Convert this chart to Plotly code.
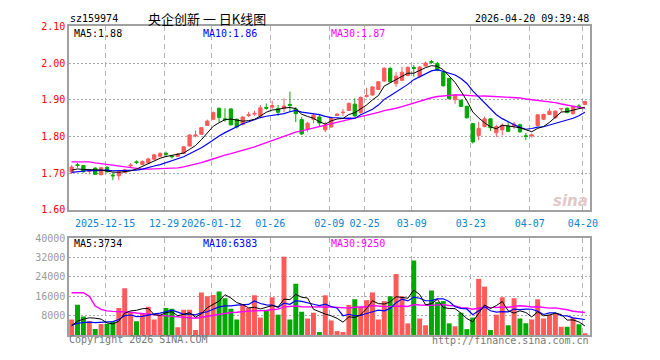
import plotly.graph_objects as go
import pandas as pd

W, H = 660, 360

# ---------------- data ----------------
tick_labels = ["2025-12-15", "12-29", "2026-01-12", "01-26", "02-09",
               "02-25", "03-09", "03-23", "04-07", "04-20"]
tick_index = [6, 16, 24, 34, 44, 50, 58, 68, 78, 87]

open_ = [1.703, 1.723, 1.721, 1.705, 1.714, 1.696, 1.716, 1.695, 1.693, 1.702,
         1.720, 1.731, 1.724, 1.728, 1.738, 1.746, 1.754, 1.747, 1.746, 1.754,
         1.774, 1.802, 1.806, 1.830, 1.847, 1.877, 1.848, 1.875, 1.847, 1.833,
         1.857, 1.861, 1.856, 1.879, 1.880, 1.876, 1.876, 1.887, 1.875, 1.846,
         1.821, 1.847, 1.853, 1.818, 1.826, 1.857, 1.865, 1.871, 1.888, 1.865,
         1.909, 1.913, 1.928, 1.951, 1.985, 1.944, 1.953, 1.966, 1.988, 1.963,
         1.992, 2.004, 1.999, 1.975, 1.958, 1.900, 1.899, 1.882, 1.835, 1.803,
         1.827, 1.848, 1.810, 1.818, 1.828, 1.829, 1.832, 1.802, 1.802, 1.830,
         1.847, 1.860, 1.851, 1.875, 1.877, 1.862, 1.883, 1.887]
high = [1.722, 1.728, 1.722, 1.710, 1.716, 1.717, 1.720, 1.702, 1.709, 1.712,
        1.728, 1.735, 1.735, 1.742, 1.752, 1.757, 1.759, 1.750, 1.755, 1.774,
        1.806, 1.816, 1.826, 1.846, 1.868, 1.878, 1.877, 1.877, 1.849, 1.855,
        1.867, 1.870, 1.886, 1.890, 1.897, 1.886, 1.904, 1.922, 1.880, 1.853,
        1.840, 1.863, 1.858, 1.840, 1.854, 1.863, 1.875, 1.893, 1.904, 1.909,
        1.933, 1.937, 1.951, 1.988, 1.990, 1.975, 1.990, 1.991, 1.995, 1.992,
        2.004, 2.008, 2.003, 1.978, 1.960, 1.915, 1.900, 1.884, 1.837, 1.840,
        1.854, 1.850, 1.832, 1.836, 1.840, 1.840, 1.835, 1.810, 1.808, 1.861,
        1.862, 1.877, 1.871, 1.877, 1.879, 1.883, 1.888, 1.898]
low = [1.698, 1.715, 1.702, 1.697, 1.696, 1.694, 1.702, 1.681, 1.681, 1.700,
       1.715, 1.725, 1.722, 1.727, 1.737, 1.745, 1.744, 1.740, 1.745, 1.753,
       1.773, 1.798, 1.805, 1.829, 1.845, 1.839, 1.840, 1.830, 1.822, 1.830,
       1.853, 1.856, 1.851, 1.873, 1.875, 1.856, 1.866, 1.866, 1.839, 1.804,
       1.812, 1.836, 1.827, 1.812, 1.823, 1.856, 1.856, 1.869, 1.854, 1.862,
       1.906, 1.911, 1.926, 1.948, 1.947, 1.935, 1.951, 1.964, 1.963, 1.960,
       1.990, 1.998, 1.978, 1.936, 1.901, 1.889, 1.880, 1.849, 1.781, 1.790,
       1.825, 1.815, 1.799, 1.803, 1.812, 1.821, 1.810, 1.790, 1.797, 1.828,
       1.845, 1.858, 1.849, 1.866, 1.863, 1.860, 1.879, 1.885]
close = [1.717, 1.721, 1.704, 1.707, 1.697, 1.715, 1.704, 1.693, 1.704, 1.709,
         1.722, 1.729, 1.732, 1.739, 1.750, 1.754, 1.752, 1.745, 1.752, 1.772,
         1.804, 1.804, 1.824, 1.842, 1.865, 1.852, 1.846, 1.832, 1.826, 1.853,
         1.859, 1.863, 1.878, 1.877, 1.884, 1.866, 1.883, 1.885, 1.862, 1.807,
         1.836, 1.858, 1.837, 1.831, 1.851, 1.861, 1.866, 1.890, 1.856, 1.906,
         1.911, 1.935, 1.949, 1.986, 1.949, 1.964, 1.975, 1.988, 1.985, 1.989,
         2.000, 2.002, 1.980, 1.938, 1.903, 1.913, 1.882, 1.851, 1.785, 1.822,
         1.848, 1.824, 1.827, 1.831, 1.814, 1.834, 1.813, 1.800, 1.804, 1.859,
         1.860, 1.869, 1.869, 1.876, 1.865, 1.881, 1.881, 1.895]
volume = [6400, 12500, 7600, 5700, 2500, 4500, 4500, 5600, 11200, 19300,
          9200, 5700, 8900, 11700, 6400, 8000, 11200, 10800, 3200, 10400,
          10400, 2000, 17600, 16000, 16500, 18000, 15200, 10800, 6400, 12500,
          11200, 16400, 7200, 10400, 15600, 8400, 32400, 6400, 21200, 9600,
          6800, 9200, 1200, 16400, 6000, 1600, 1200, 12400, 14800, 11600,
          14400, 17600, 6400, 14000, 16000, 25200, 16000, 4800, 30800, 6800,
          4000, 18400, 13600, 14000, 4800, 3600, 9200, 2400, 7200, 23200,
          20000, 2000, 8400, 15600, 4000, 15200, 6800, 4800, 6400, 14800,
          6800, 8400, 8800, 3400, 3400, 7100, 4400, 400]

# sessions before the first visible candle (estimated so that the moving averages start where they do)
pre_close = [1.71, 1.71, 1.71, 1.78, 1.78, 1.765, 1.765, 1.765, 1.80, 1.80,
             1.80, 1.74, 1.74, 1.74, 1.74, 1.74, 1.74, 1.69, 1.69, 1.70,
             1.70, 1.69, 1.69, 1.70, 1.70, 1.705, 1.71, 1.705, 1.705]
pre_volume = [12500, 7600, 50700, 122500, 46500, 22500, 11600,
              15000, 18000, 17000, 16000, 14000, 19000, 16500, 15000, 17000,
              16000, 15500, 17000, 14000,
              4500, 4000, 4200, 4300, 4000, 3000, 3500, 2800, 3300]

price_ticks = [1.60, 1.70, 1.80, 1.90, 2.00, 2.10]
vol_ticks = [8000, 16000, 24000, 32000, 40000]

title_code = "sz159974"
title_name = "央企创新\u00a0一\u00a0日K线图"
stamp = "2026-04-20 09:39:48"
price_ma_labels = ["MA5:1.88", "MA10:1.86", "MA30:1.87"]
vol_ma_labels = ["MA5:3734", "MA10:6383", "MA30:9250"]

# ---------------- derived ----------------
n = len(close)
idx = list(range(n))
cs = pd.Series(pre_close + close)
vs = pd.Series(pre_volume + volume)
k = len(pre_close)
ma5 = cs.rolling(5).mean().iloc[k:].tolist()
ma10 = cs.rolling(10).mean().iloc[k:].tolist()
ma30 = cs.rolling(30).mean().iloc[k:].tolist()
vma5 = vs.rolling(5).mean().iloc[k:].tolist()
vma10 = vs.rolling(10).mean().iloc[k:].tolist()
vma30 = vs.rolling(30).mean().iloc[k:].tolist()

RED = "#ff5a5a"
GREEN = "#00a800"
MONO = "DejaVu Sans Mono"
vcolors = [RED if c >= o else GREEN for o, c in zip(open_, close)]


def px(x):
    return x / W


def py(y):
    return 1 - y / H


XR = [-0.4167, 87.833]
XDOM = [px(70), px(597)]

fig = go.Figure()
fig.add_trace(go.Candlestick(
    x=idx, open=open_, high=high, low=low, close=close,
    increasing=dict(line=dict(color=RED, width=1), fillcolor=RED),
    decreasing=dict(line=dict(color=GREEN, width=1), fillcolor=GREEN),
    whiskerwidth=0, xaxis="x", yaxis="y", hoverinfo="skip"))
fig.add_trace(go.Scatter(x=idx, y=ma30, mode="lines", line=dict(color="#ff00ff", width=1.4),
                         xaxis="x", yaxis="y", hoverinfo="skip"))
fig.add_trace(go.Scatter(x=idx, y=ma10, mode="lines", line=dict(color="#0000ff", width=1.2),
                         xaxis="x", yaxis="y", hoverinfo="skip"))
fig.add_trace(go.Scatter(x=idx, y=ma5, mode="lines", line=dict(color="#000000", width=1),
                         xaxis="x", yaxis="y", hoverinfo="skip"))

fig.add_trace(go.Bar(x=idx, y=volume, marker=dict(color=vcolors, line=dict(width=0)),
                     width=0.84, xaxis="x2", yaxis="y2", hoverinfo="skip"))
fig.add_trace(go.Scatter(x=idx, y=vma30, mode="lines", line=dict(color="#ff00ff", width=1.4),
                         xaxis="x2", yaxis="y2", hoverinfo="skip"))
fig.add_trace(go.Scatter(x=idx, y=vma10, mode="lines", line=dict(color="#0000ff", width=1.2),
                         xaxis="x2", yaxis="y2", hoverinfo="skip"))
fig.add_trace(go.Scatter(x=idx, y=vma5, mode="lines", line=dict(color="#000000", width=1),
                         xaxis="x2", yaxis="y2", hoverinfo="skip"))

grid_x = dict(showgrid=True, gridcolor="#b4b4b4", gridwidth=1, griddash="5px,4px",
              showline=True, mirror=True, linecolor="#a0a0a0", linewidth=1.5,
              ticks="", zeroline=False, range=XR, domain=XDOM,
              tickvals=[t - 0.33 for t in tick_index], ticktext=tick_labels)

fig.update_layout(
    width=W, height=H, autosize=False,
    margin=dict(l=0, r=0, t=0, b=0),
    paper_bgcolor="white", plot_bgcolor="white",
    showlegend=False, boxgap=0.2,
    xaxis=dict(**grid_x, anchor="y", rangeslider=dict(visible=False),
               ticklabelstandoff=3,
               tickfont=dict(family=MONO, size=10, color="#0b84cf")),
    yaxis=dict(domain=[py(211), py(21)], range=[1.60, 2.10], anchor="x",
               tickvals=price_ticks, ticktext=["%.2f" % v for v in price_ticks],
               tickfont=dict(family=MONO, size=10, color="#ff0000"),
               showgrid=True, gridcolor="#aaaaaa", gridwidth=1, griddash="2px,2px",
               showline=True, mirror=True, linecolor="#a0a0a0", linewidth=1.5,
               ticks="", zeroline=False),
    xaxis2=dict(**grid_x, anchor="y2", showticklabels=False),
    yaxis2=dict(domain=[py(340.3), py(240.3)], range=[0, 40000], anchor="x2",
                tickvals=vol_ticks, ticktext=[str(v) for v in vol_ticks],
                tickfont=dict(family=MONO, size=10, color="#9a9a9a"),
                showgrid=True, gridcolor="#aaaaaa", gridwidth=1, griddash="2px,2px",
                showline=True, mirror=True, linecolor="#a0a0a0", linewidth=1.5,
                ticks="", zeroline=False),
)


def note(text, x, y, color="#000000", size=10, anchor="left", family=MONO, **kw):
    fig.add_annotation(text=text, x=px(x), y=py(y), xref="paper", yref="paper",
                       xanchor=anchor, yanchor="middle", showarrow=False,
                       borderpad=0, font=dict(family=family, size=size, color=color), **kw)


note(title_code, 70, 13)
note(title_name, 149, 12.5, size=13, family="Noto Sans CJK SC")
note(stamp, 597, 13, anchor="right")
ma_cols = ["#000000", "#0000ff", "#ff00ff"]
ma_x = [74, 204, 334]
for t, c, x in zip(price_ma_labels, ma_cols, ma_x):
    note(t, x, 28, color=c)
for t, c, x in zip(vol_ma_labels, ma_cols, ma_x):
    note(t, x, 246, color=c)
note("Copyright 2026 SINA.COM", 69, 345, color="#777777")
note("http://finance.sina.com.cn", 597, 346, color="#777777", anchor="right")
note("<b><i>sina</i></b>", 578, 202, color="#e2c8c8", size=15, anchor="center",
     family="DejaVu Sans")

fig.write_html("out.html")
